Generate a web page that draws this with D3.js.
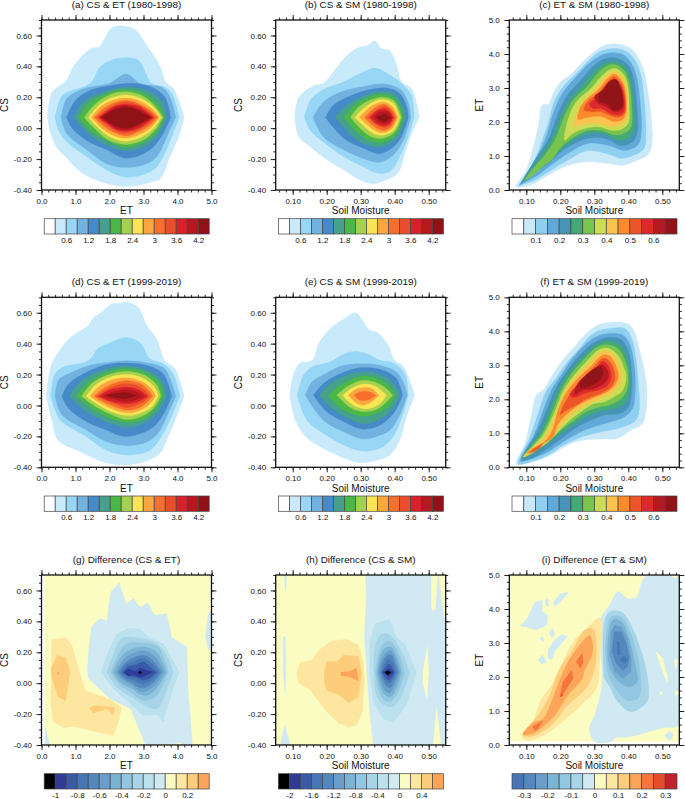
<!DOCTYPE html>
<html><head><meta charset="utf-8">
<style>html,body{margin:0;padding:0;background:#fff}svg{display:block}text{font-family:"Liberation Sans",Arial,sans-serif;fill:#111}</style>
<script src="https://cdn.jsdelivr.net/npm/d3@7"></script></head><body><div id="c"></div>
<script>
const colorsDensity=["#ffffff","#c9eafa","#97d6f5","#72b2e0","#468ac8","#45a08c","#4bb748","#a6d14f","#f9e553","#f9a73e","#f76f2a","#e94e2c","#d7212b","#b3191f","#8f1216"];
const colorsJoint=["#ffffff","#c9e9f9","#8fd0f0","#62a8d8","#4695b5","#44a877","#78c44f","#cddc55","#fac34f","#f98b2e","#ed5529","#dc2a2c","#b4191f","#901418"];
const colorsDiffG=["#000000","#303b98","#3a59a8","#4676b4","#5388bd","#6a9ecc","#7bb3d3","#93c6e0","#a7d4e6","#bbe0ee","#d0e9f3","#fbfcc2","#fde7a0","#fdcd7b","#fca55a"];
const colorsDiffI=["#4674b4","#5387bd","#6a9dc9","#7bb3d3","#93c6e0","#a7d4e6","#d0e9f3","#fbfcc2","#fde7a0","#fdcd7b","#fca55a","#f6743e","#e34d2c","#c2202a"];
const labelsDensity=[0.6,1.2,1.8,2.4,3,3.6,4.2];
const labelsJoint=[0.1,0.2,0.3,0.4,0.5,0.6];
const labelsG=[-1,-0.8,-0.6,-0.4,-0.2,0,0.2];
const labelsH=[-2,-1.6,-1.2,-0.8,-0.4,0,0.4];
const labelsI=[-0.3,-0.2,-0.1,0,0.1,0.2,0.3];
const titles=["(a) CS & ET (1980-1998)","(b) CS & SM (1980-1998)","(c) ET & SM (1980-1998)","(d) CS & ET (1999-2019)","(e) CS & SM (1999-2019)","(f) ET & SM (1999-2019)","(g) Difference (CS & ET)","(h) Difference (CS & SM)","(i) Difference (ET & SM)"];

const bandsA=[1,2,3,4,5,6,7,8,9,10,11,12,13,14];
const ringsA=[
[[.17,.07],[.3,.23],[.5,.27],[.7,.3],[1,.42],[1.5,.52],[1.7,.525],[1.9,.6],[2.1,.655],[2.7,.645],[3.1,.535],[3.5,.395],[3.65,.3],[3.9,.25],[4.2,.07],[4.07,-.035],[3.78,-.185],[3.5,-.325],[3.2,-.35],[2.7,-.375],[2.3,-.375],[1.72,-.345],[1.13,-.28],[.75,-.195],[.5,-.14],[.3,-.055]],
[[.4,.07],[.53,.18],[.65,.22],[1.43,.29],[1.72,.395],[2.06,.44],[2.45,.455],[2.85,.44],[3.24,.29],[3.63,.265],[3.85,.22],[4.05,.07],[3.87,-.035],[3.58,-.185],[3.29,-.27],[2.7,-.315],[2.4,-.315],[1.92,-.27],[1.33,-.185],[.75,-.09],[.5,-.015]],
[[.58,.07],[.74,.19],[1.23,.255],[2,.29],[2.5,.35],[2.9,.29],[3.58,.26],[3.8,.19],[3.95,.07],[3.73,-.035],[3.39,-.185],[3.09,-.23],[2.5,-.255],[1.92,-.23],[1.33,-.14],[.74,-.035]],
[[.74,.07],[1,.18],[1.43,.245],[2,.275],[2.7,.29],[3.29,.26],[3.63,.2],[3.8,.07],[3.58,-.035],[3.19,-.14],[2.5,-.195],[1.92,-.14],[1.33,-.08],[.9,0]],
[[.96,.07],[1.23,.17],[1.72,.225],[2.5,.265],[3.19,.235],[3.58,.16],[3.68,.07],[3.48,-.025],[3.09,-.11],[2.5,-.145],[1.92,-.11],[1.33,-.025]],
[[1.09,.07],[1.38,.16],[1.82,.215],[2.5,.25],[3.09,.215],[3.48,.14],[3.62,.07],[3.39,-.025],[3,-.09],[2.5,-.125],[1.92,-.08],[1.43,-.015]],
[[1.25,.07],[1.6,.16],[2,.215],[2.5,.235],[3,.205],[3.35,.14],[3.58,.07],[3.35,-.01],[3,-.075],[2.5,-.105],[2,-.08],[1.6,-.01]],
[[1.38,.07],[1.7,.15],[2.05,.195],[2.5,.215],[2.95,.19],[3.3,.135],[3.52,.07],[3.3,0],[2.95,-.055],[2.5,-.085],[2.05,-.06],[1.7,-.005]],
[[1.47,.07],[1.75,.14],[2.1,.18],[2.5,.195],[2.9,.175],[3.25,.125],[3.47,.07],[3.25,.01],[2.9,-.04],[2.5,-.065],[2.1,-.045],[1.75,.005]],
[[1.55,.07],[1.85,.13],[2.15,.165],[2.5,.18],[2.85,.16],[3.2,.115],[3.42,.07],[3.2,.02],[2.85,-.025],[2.5,-.05],[2.15,-.03],[1.85,.01]],
[[1.62,.07],[1.9,.12],[2.2,.155],[2.5,.17],[2.85,.15],[3.15,.11],[3.36,.07],[3.15,.028],[2.85,-.012],[2.5,-.035],[2.2,-.02],[1.9,.02]],
[[1.68,.07],[1.95,.115],[2.2,.145],[2.5,.155],[2.85,.14],[3.1,.105],[3.3,.07],[3.1,.035],[2.85,0],[2.5,-.02],[2.2,-.01],[1.95,.025]],
[[1.72,.07],[2,.11],[2.2,.135],[2.5,.145],[2.8,.13],[3.05,.1],[3.25,.07],[3.05,.04],[2.8,.01],[2.5,-.01],[2.2,-.002],[2,.03]],
[[1.78,.07],[2,.105],[2.25,.125],[2.5,.135],[2.8,.12],[3,.095],[3.2,.07],[3,.045],[2.8,.02],[2.5,0],[2.25,.008],[2,.035]]
];

const bandsB=[1,2,3,4,5,6,7,8,9,10,11,12,13,14];
const ringsB=[
[[.106,.07],[.118,.2],[.157,.27],[.19,.29],[.22,.365],[.25,.45],[.29,.52],[.32,.535],[.342,.565],[.36,.515],[.386,.5],[.405,.415],[.42,.3],[.45,.255],[.473,.07],[.45,-.035],[.43,-.165],[.41,-.29],[.376,-.335],[.337,-.36],[.298,-.335],[.25,-.27],[.2,-.205],[.152,-.12],[.118,-.055]],
[[.134,.07],[.152,.18],[.186,.245],[.25,.3],[.308,.365],[.344,.39],[.381,.35],[.42,.29],[.45,.21],[.457,.07],[.44,-.055],[.415,-.185],[.386,-.28],[.347,-.29],[.308,-.25],[.25,-.185],[.19,-.09],[.152,-.015]],
[[.16,.07],[.186,.16],[.23,.225],[.308,.27],[.376,.285],[.42,.245],[.44,.16],[.447,.07],[.43,-.055],[.4,-.165],[.357,-.22],[.318,-.205],[.25,-.14],[.19,-.055]],
[[.196,.07],[.22,.15],[.26,.2],[.318,.245],[.376,.26],[.415,.225],[.435,.14],[.44,.07],[.42,-.055],[.396,-.12],[.357,-.165],[.308,-.13],[.25,-.065]],
[[.225,.07],[.254,.14],[.3,.2],[.347,.235],[.396,.225],[.425,.14],[.432,.07],[.41,-.055],[.376,-.11],[.337,-.12],[.288,-.075]],
[[.25,.07],[.278,.14],[.318,.195],[.357,.22],[.396,.2],[.42,.115],[.425,.07],[.405,-.035],[.371,-.09],[.337,-.09],[.293,-.035]],
[[.27,.07],[.293,.135],[.327,.18],[.361,.2],[.396,.18],[.415,.105],[.42,.07],[.4,-.025],[.366,-.065],[.332,-.055],[.298,0]],
[[.283,.07],[.308,.125],[.337,.17],[.366,.185],[.396,.16],[.415,.07],[.396,-.015],[.366,-.045],[.337,-.035],[.308,.015]],
[[.296,.07],[.318,.12],[.342,.155],[.366,.17],[.393,.14],[.41,.07],[.393,0],[.366,-.03],[.342,-.015],[.318,.025]],
[[.311,.07],[.327,.105],[.347,.14],[.368,.155],[.39,.125],[.405,.07],[.39,.01],[.368,-.015],[.347,0],[.327,.035]],
[[.32,.07],[.337,.105],[.352,.125],[.371,.14],[.388,.115],[.4,.07],[.388,.02],[.371,.003],[.352,.015],[.335,.04]],
[[.327,.07],[.347,.11],[.371,.125],[.386,.105],[.396,.07],[.386,.03],[.371,.015],[.347,.03]],
[[.337,.07],[.352,.1],[.371,.11],[.383,.095],[.392,.07],[.383,.04],[.371,.03],[.352,.04]],
[[.347,.07],[.371,.09],[.386,.07],[.371,.04]]
];

const bandsC=[1,2,3,4,5,6,7,8,9,10,11,12,13];
const ringsC=[
[[.07,.1],[.1,.59],[.135,1.86],[.147,2.5],[.164,2.53],[.184,2.94],[.203,3.2],[.228,3.38],[.262,3.73],[.301,4.07],[.33,4.26],[.379,4.28],[.413,4.12],[.442,3.63],[.457,2.94],[.467,2.16],[.47,1.37],[.457,1.03],[.423,.86],[.384,.72],[.34,.78],[.281,.83],[.223,.72],[.174,.49],[.125,.2],[.096,.1]],
[[.077,.1],[.116,.69],[.147,1.47],[.164,1.96],[.184,2.65],[.213,3.09],[.252,3.48],[.301,3.97],[.33,4.12],[.379,4.14],[.408,3.97],[.433,3.53],[.447,2.65],[.452,1.67],[.447,1.23],[.418,1.03],[.379,.93],[.34,1.06],[.281,1.16],[.223,.88],[.174,.59],[.125,.29],[.086,.15]],
[[.081,.15],[.12,.78],[.155,1.47],[.179,2.25],[.203,2.79],[.242,3.28],[.291,3.77],[.33,4],[.374,4.02],[.403,3.82],[.423,3.38],[.436,2.45],[.438,1.67],[.428,1.32],[.389,1.16],[.345,1.3],[.281,1.37],[.223,1.08],[.174,.74],[.135,.44],[.091,.2]],
[[.086,.2],[.125,.88],[.164,1.47],[.194,2.25],[.218,2.75],[.252,3.14],[.301,3.68],[.335,3.87],[.369,3.87],[.399,3.68],[.416,3.24],[.426,2.35],[.426,1.67],[.413,1.42],[.379,1.3],[.345,1.47],[.301,1.55],[.252,1.42],[.203,1.13],[.164,.78],[.125,.54],[.091,.25]],
[[.091,.25],[.135,.88],[.174,1.47],[.203,2.2],[.228,2.65],[.267,3.09],[.311,3.58],[.35,3.77],[.384,3.68],[.403,3.38],[.416,2.45],[.416,1.76],[.399,1.52],[.369,1.47],[.33,1.65],[.296,1.69],[.252,1.55],[.213,1.27],[.169,.88],[.135,.64],[.106,.34]],
[[.096,.29],[.125,.69],[.155,1.03],[.184,1.47],[.213,2.2],[.238,2.65],[.277,3.02],[.32,3.53],[.355,3.7],[.384,3.55],[.4,3.24],[.41,2.45],[.408,1.86],[.389,1.67],[.36,1.62],[.32,1.75],[.281,1.75],[.242,1.57],[.203,1.27],[.174,.88],[.155,.74],[.12,.44]],
[[.213,1.47],[.216,1.81],[.233,2.35],[.252,2.65],[.291,2.99],[.325,3.38],[.358,3.58],[.384,3.43],[.397,3.14],[.403,2.45],[.4,1.96],[.379,1.78],[.35,1.76],[.311,1.86],[.272,1.81],[.238,1.67]],
[[.24,1.88],[.247,2.2],[.267,2.6],[.301,2.94],[.33,3.28],[.358,3.48],[.382,3.31],[.394,2.99],[.399,2.35],[.394,2.06],[.374,1.91],[.35,1.86],[.311,1.96],[.272,1.94]],
[[.252,2.08],[.26,2.45],[.281,2.7],[.311,2.94],[.335,3.24],[.358,3.41],[.379,3.24],[.391,2.94],[.394,2.35],[.387,2.11],[.36,2.01],[.32,2.16],[.281,2.14]],
[[.27,2.35],[.281,2.6],[.311,2.84],[.335,3.14],[.358,3.33],[.379,3.14],[.389,2.84],[.391,2.3],[.379,2.16],[.355,2.16],[.32,2.3],[.291,2.3]],
[[.286,2.53],[.311,2.75],[.335,3.02],[.358,3.25],[.377,3.09],[.387,2.79],[.387,2.3],[.369,2.2],[.35,2.24],[.32,2.4],[.296,2.4]],
[[.301,2.75],[.325,2.94],[.34,3.14],[.358,3.24],[.374,3.06],[.384,2.75],[.384,2.4],[.36,2.3],[.335,2.45],[.311,2.55]],
[[.313,2.79],[.33,2.99],[.345,3.19],[.364,3.25],[.376,3.04],[.384,2.65],[.379,2.45],[.358,2.35],[.335,2.55],[.316,2.6]]
];

const bandsD=[1,2,3,4,5,6,7,8,9,10,11,12,13,14];
const ringsD=[
[[.14,.06],[.3,.27],[.5,.345],[.8,.43],[1.38,.52],[1.53,.57],[1.72,.595],[2.08,.66],[2.26,.66],[2.5,.67],[2.85,.635],[3.09,.52],[3.39,.43],[3.63,.29],[3.92,.24],[4.2,.06],[3.97,-.075],[3.68,-.225],[3.48,-.31],[3,-.365],[2.4,-.385],[1.82,-.365],[1.13,-.3],[.49,-.225],[.3,-.095]],
[[.27,.06],[.4,.205],[.65,.25],[1.38,.29],[1.67,.37],[2,.405],[2.5,.44],[2.9,.405],[3.2,.3],[3.58,.27],[3.87,.205],[4.07,.06],[3.78,-.095],[3.58,-.18],[3.19,-.29],[2.5,-.32],[1.92,-.29],[1.23,-.19],[.55,-.095],[.4,-.03]],
[[.4,.06],[.5,.165],[.7,.195],[1.43,.26],[2,.28],[2.5,.29],[3,.28],[3.58,.245],[3.78,.175],[3.95,.06],[3.73,-.05],[3.39,-.19],[3,-.245],[2.5,-.26],[1.92,-.235],[1.33,-.16],[.6,-.06]],
[[.6,.06],[.8,.14],[1.23,.205],[1.92,.265],[2.5,.275],[3.09,.26],[3.58,.205],[3.83,.06],[3.63,-.04],[3.29,-.14],[2.8,-.19],[2.4,-.2],[1.92,-.16],[1.33,-.105],[.8,-.02]],
[[.82,.06],[1.13,.15],[1.62,.215],[2.4,.255],[3.09,.23],[3.53,.165],[3.68,.06],[3.43,-.04],[3.09,-.105],[2.5,-.14],[1.92,-.105],[1.33,-.04]],
[[1.02,.06],[1.33,.14],[1.82,.205],[2.45,.24],[3.09,.21],[3.48,.14],[3.58,.06],[3.34,-.03],[3,-.09],[2.5,-.11],[1.92,-.075],[1.43,-.01]],
[[1.18,.06],[1.47,.14],[1.92,.195],[2.5,.22],[3.04,.195],[3.41,.125],[3.51,.06],[3.29,-.02],[2.95,-.07],[2.5,-.09],[1.97,-.05],[1.53,.002]],
[[1.31,.06],[1.58,.13],[1.97,.18],[2.5,.2],[3,.175],[3.34,.115],[3.43,.06],[3.24,-.01],[2.9,-.05],[2.5,-.065],[2,-.035],[1.58,.017]],
[[1.43,.06],[1.67,.12],[2.06,.165],[2.5,.18],[2.95,.155],[3.24,.105],[3.36,.06],[3.14,.002],[2.85,-.035],[2.5,-.047],[2.06,-.02],[1.67,.024]],
[[1.55,.06],[1.82,.11],[2.16,.146],[2.5,.16],[2.9,.142],[3.14,.1],[3.27,.06],[3.07,.013],[2.8,-.02],[2.5,-.03],[2.1,-.004],[1.76,.03]],
[[1.62,.06],[1.92,.103],[2.2,.13],[2.5,.14],[2.85,.125],[3.09,.088],[3.19,.06],[3,.024],[2.75,0],[2.5,-.013],[2.16,.009],[1.87,.034]],
[[1.7,.06],[2,.1],[2.5,.12],[2.85,.103],[3.12,.06],[2.85,.026],[2.5,.009],[2,.03]],
[[1.8,.06],[2.16,.09],[2.5,.103],[2.8,.088],[3.02,.06],[2.8,.039],[2.5,.024],[2.16,.039]],
[[1.92,.065],[2.45,.082],[2.78,.065],[2.45,.045]]
];

const bandsE=[1,2,3,4,5,6,7,8,9,10];
const ringsE=[
[[.091,.066],[.103,.206],[.122,.275],[.157,.292],[.176,.4],[.21,.497],[.25,.56],[.286,.6],[.303,.56],[.325,.49],[.347,.475],[.381,.39],[.4,.292],[.425,.254],[.459,.066],[.435,-.073],[.415,-.224],[.386,-.32],[.337,-.36],[.293,-.37],[.24,-.33],[.181,-.267],[.137,-.2],[.108,-.095]],
[[.113,.066],[.132,.196],[.157,.25],[.21,.282],[.244,.325],[.279,.35],[.318,.335],[.357,.292],[.396,.275],[.43,.206],[.44,.066],[.425,-.05],[.396,-.2],[.357,-.277],[.303,-.295],[.25,-.256],[.19,-.18],[.142,-.095]],
[[.137,.066],[.157,.153],[.196,.206],[.25,.26],[.298,.27],[.357,.26],[.405,.217],[.425,.153],[.437,.066],[.415,-.062],[.386,-.16],[.347,-.2],[.303,-.215],[.25,-.17],[.19,-.095]],
[[.161,.066],[.19,.142],[.24,.206],[.303,.245],[.366,.228],[.405,.174],[.423,.066],[.4,-.04],[.357,-.127],[.306,-.153],[.25,-.105],[.2,-.04]],
[[.179,.066],[.21,.142],[.259,.196],[.306,.217],[.357,.2],[.396,.142],[.415,.066],[.391,-.03],[.352,-.095],[.306,-.116],[.254,-.073],[.21,-.009]],
[[.205,.066],[.24,.131],[.279,.174],[.306,.19],[.352,.174],[.386,.12],[.402,.066],[.381,-.009],[.347,-.052],[.306,-.069],[.259,-.04],[.225,.013]],
[[.23,.066],[.259,.12],[.293,.157],[.313,.163],[.352,.142],[.381,.099],[.394,.066],[.371,.013],[.342,-.03],[.306,-.04],[.269,-.013],[.249,.024]],
[[.247,.066],[.273,.11],[.303,.138],[.337,.131],[.366,.088],[.376,.066],[.357,.013],[.327,-.02],[.303,-.02],[.273,.009]],
[[.264,.066],[.283,.1],[.306,.116],[.332,.11],[.354,.066],[.332,.024],[.306,.002],[.283,.024]],
[[.28,.066],[.298,.088],[.327,.088],[.344,.066],[.327,.04],[.298,.034]]
];

const bandsF=[1,2,3,4,5,6,7,8,9,10,10,11,12,13];
const ringsF=[
[[.07,.1],[.096,.7],[.114,1.49],[.13,2.13],[.15,2.27],[.174,2.67],[.208,3.16],[.242,3.55],[.272,3.89],[.311,4.19],[.345,4.26],[.389,4.25],[.413,4.09],[.433,3.45],[.449,2.76],[.455,2.13],[.442,1.29],[.408,1.1],[.369,.85],[.32,.83],[.272,.8],[.223,.66],[.174,.36],[.125,.17],[.091,.1]],
[[.077,.1],[.111,.9],[.135,1.59],[.16,2.27],[.184,2.57],[.218,3.06],[.257,3.5],[.291,3.89],[.32,4.04],[.355,4.09],[.389,4.09],[.408,3.84],[.423,3.16],[.43,2.37],[.433,1.78],[.423,1.39],[.389,1.2],[.35,1.1],[.301,1],[.252,.85],[.203,.61],[.164,.36],[.116,.17]],
[[.083,.17],[.125,1],[.15,1.69],[.174,2.27],[.203,2.72],[.233,3.16],[.272,3.6],[.306,3.84],[.345,3.94],[.384,3.89],[.403,3.65],[.418,2.96],[.42,2.18],[.413,1.74],[.389,1.49],[.35,1.34],[.301,1.2],[.252,1],[.203,.71],[.155,.41],[.106,.22]],
[[.086,.22],[.13,1],[.16,1.69],[.189,2.37],[.218,2.81],[.257,3.3],[.296,3.65],[.34,3.82],[.379,3.75],[.399,3.45],[.41,2.76],[.408,2.08],[.399,1.74],[.369,1.57],[.33,1.54],[.291,1.39],[.252,1.2],[.203,.85],[.164,.56],[.116,.26]],
[[.089,.26],[.14,1],[.169,1.69],[.199,2.37],[.228,2.81],[.267,3.25],[.306,3.6],[.34,3.72],[.374,3.6],[.394,3.3],[.405,2.67],[.403,2.18],[.389,1.88],[.36,1.74],[.325,1.67],[.286,1.54],[.252,1.34],[.203,1],[.164,.71],[.125,.46]],
[[.091,.31],[.147,1],[.179,1.69],[.203,2.27],[.233,2.76],[.272,3.2],[.311,3.55],[.345,3.6],[.374,3.45],[.389,3.16],[.4,2.72],[.394,2.23],[.374,1.98],[.345,1.83],[.311,1.76],[.277,1.64],[.242,1.39],[.203,1.1],[.169,.8],[.125,.46]],
[[.091,.31],[.15,.95],[.184,1.64],[.208,2.23],[.238,2.67],[.277,3.11],[.316,3.47],[.342,3.5],[.369,3.3],[.386,2.96],[.394,2.67],[.384,2.27],[.36,2.08],[.33,1.93],[.296,1.86],[.262,1.64],[.223,1.34],[.194,1.05],[.16,.71],[.125,.51]],
[[.091,.31],[.111,.51],[.155,.9],[.184,1.44],[.199,1.88],[.218,2.32],[.247,2.67],[.286,3.06],[.32,3.4],[.345,3.4],[.366,3.16],[.379,2.72],[.374,2.42],[.35,2.18],[.311,2],[.277,1.83],[.238,1.59],[.203,1.25],[.179,.95],[.15,.71],[.116,.41]],
[[.101,.41],[.12,.56],[.15,.71],[.169,.95],[.179,1.15],[.194,1.69],[.213,2.13],[.252,2.62],[.291,2.98],[.325,3.3],[.345,3.27],[.36,3.06],[.371,2.72],[.364,2.47],[.34,2.23],[.301,2.06],[.262,1.88],[.228,1.64],[.194,1.29],[.179,.9],[.145,.66],[.116,.46]],
[[.199,1.54],[.218,1.98],[.257,2.52],[.296,2.92],[.325,3.2],[.34,3.16],[.355,2.94],[.361,2.62],[.35,2.37],[.32,2.18],[.281,2.03],[.242,1.8],[.213,1.64]],
[[.108,.42],[.125,.56],[.15,.72],[.142,.6],[.125,.47]],
[[.228,2.13],[.267,2.57],[.301,2.86],[.325,3.11],[.34,3.01],[.35,2.72],[.34,2.42],[.311,2.27],[.272,2.18],[.242,2.06]],
[[.242,2.13],[.252,2.47],[.277,2.72],[.306,2.94],[.325,3.01],[.342,2.76],[.335,2.52],[.301,2.32],[.267,2.27]],
[[.257,2.42],[.277,2.72],[.32,2.96],[.325,2.72],[.311,2.52],[.286,2.39],[.262,2.32]]
];

const bandsG=[10,10,10,9,8,7,6,5,4,3,2,1,0,12,13,13,14];
const ringsG=[
[[1.35,.07],[1.38,.2],[1.47,.365],[1.72,.42],[1.92,.4],[2.04,.59],[2.29,.65],[2.49,.51],[2.7,.55],[2.9,.49],[3.12,.52],[3.34,.44],[3.68,.45],[3.83,.295],[4.27,.235],[4.31,-.035],[4.44,-.4],[4.12,-.4],[4.1,-.38],[3.97,-.39],[3.06,-.4],[2.7,-.205],[2.62,-.165],[2.02,-.1],[1.38,.03]],
[[4.82,.3],[4.9,.45],[5,.47],[5,.22],[4.9,.22]],
[[.1,-.28],[.25,-.4],[.1,-.4]],
[[1.75,.07],[1.92,.18],[2.21,.32],[2.55,.355],[2.9,.35],[3.19,.29],[3.58,.255],[3.92,.125],[4.05,.07],[3.87,-.035],[3.58,-.25],[3.39,-.205],[2.99,-.21],[2.7,-.15],[2.11,-.035]],
[[1.92,.07],[2.11,.18],[2.36,.29],[2.9,.29],[3.39,.255],[3.68,.18],[3.87,.07],[3.73,-.013],[3.39,-.165],[2.99,-.14],[2.65,-.09],[2.21,-.025]],
[[2.04,.07],[2.21,.16],[2.5,.255],[3,.26],[3.43,.235],[3.63,.14],[3.73,.07],[3.58,-.002],[3.34,-.09],[3,-.11],[2.6,-.055],[2.26,0]],
[[2.11,.07],[2.31,.16],[2.55,.21],[3,.235],[3.39,.2],[3.58,.125],[3.68,.07],[3.48,-.002],[3.24,-.065],[3,-.08],[2.65,-.035],[2.31,.01]],
[[2.19,.07],[2.4,.15],[2.65,.19],[3,.21],[3.29,.18],[3.53,.105],[3.6,.07],[3.39,-.002],[3.14,-.045],[2.95,-.055],[2.65,-.013],[2.36,.025]],
[[2.26,.07],[2.46,.13],[2.7,.165],[3,.18],[3.24,.155],[3.43,.105],[3.53,.07],[3.31,.009],[3.09,-.024],[2.9,-.03],[2.65,.004],[2.41,.034]],
[[2.33,.07],[2.5,.118],[2.75,.142],[3,.16],[3.19,.138],[3.46,.07],[3.24,.02],[3,-.006],[2.7,.02],[2.46,.04]],
[[2.39,.07],[2.55,.107],[2.8,.12],[3,.138],[3.19,.105],[3.39,.07],[3.19,.034],[3,.02],[2.75,.04],[2.55,.047]],
[[2.44,.07],[2.55,.09],[2.75,.077],[2.9,.095],[3.09,.083],[3.29,.07],[3.09,.052],[2.9,.04],[2.7,.055],[2.55,.047]],
[[2.85,.07],[2.9,.078],[2.95,.07],[2.9,.06]],
[[.3,.28],[.71,.295],[.89,.245],[1.09,.095],[1.28,-.045],[2.02,-.105],[2.36,-.157],[2.26,-.25],[2.11,-.34],[1.62,-.315],[.94,-.28],[.65,-.29],[.35,-.25],[.27,-.14]],
[[.47,.18],[.72,.16],[.84,.07],[.71,-.115],[.5,-.09],[.3,.03],[.28,.095]],
[[1.4,-.16],[1.58,-.145],[2.16,-.157],[2.11,-.205],[1.92,-.167],[1.53,-.195]],
[[.48,.07],[.51,.07],[.51,.055],[.48,.055]]
];

const bandsH=[10,11,11,11,11,10,10,10,9,8,7,6,5,4,3,2,1,0,12,13,14];
const ringsH=[
[[.315,.7],[.316,.5],[.311,.31],[.318,.07],[.327,-.205],[.337,-.4],[.55,-.4],[.55,.7]],
[[.508,.7],[.508,.5],[.513,.465],[.52,.49],[.527,.7]],
[[.53,.7],[.545,.43],[.55,.42],[.55,.7]],
[[.513,-.4],[.523,-.157],[.537,-.4]],
[[.483,.07],[.496,.24],[.5,.07],[.495,-.1],[.483,0]],
[[.075,.7],[.082,.7],[.08,.6],[.078,.6]],
[[.072,.3],[.078,.3],[.08,.07],[.078,-.08],[.073,.05]],
[[.064,-.4],[.076,-.27],[.093,-.4]],
[[.327,.27],[.342,.385],[.386,.415],[.403,.3],[.43,.255],[.464,.07],[.435,-.14],[.396,-.255],[.367,-.23],[.337,-.12],[.327,.07]],
[[.339,.07],[.342,.225],[.357,.31],[.376,.32],[.396,.29],[.425,.18],[.444,.07],[.42,-.08],[.396,-.15],[.367,-.14],[.347,-.08]],
[[.344,.07],[.352,.18],[.366,.255],[.386,.27],[.41,.2],[.429,.07],[.41,-.055],[.386,-.12],[.366,-.1],[.352,-.035]],
[[.348,.07],[.357,.17],[.371,.225],[.388,.235],[.405,.18],[.42,.07],[.405,-.035],[.386,-.09],[.369,-.07],[.357,-.015]],
[[.352,.07],[.361,.15],[.376,.2],[.388,.21],[.402,.16],[.415,.07],[.4,-.015],[.386,-.06],[.371,-.045],[.36,.01]],
[[.357,.07],[.366,.14],[.379,.18],[.391,.18],[.402,.125],[.41,.07],[.398,.01],[.386,-.03],[.374,-.015],[.364,.03]],
[[.361,.07],[.371,.125],[.381,.155],[.393,.135],[.403,.07],[.393,.02],[.384,0],[.371,.02]],
[[.364,.07],[.374,.105],[.383,.122],[.393,.1],[.4,.07],[.391,.035],[.382,.02],[.373,.035]],
[[.367,.07],[.382,.095],[.396,.07],[.382,.04]],
[[.371,.07],[.38,.08],[.389,.07],[.38,.055]],
[[.111,.07],[.122,.135],[.157,.15],[.176,.21],[.21,.27],[.259,.285],[.293,.245],[.308,.135],[.311,.01],[.305,-.185],[.288,-.27],[.264,-.285],[.235,-.26],[.2,-.185],[.166,-.09],[.152,-.045],[.118,0]],
[[.193,.07],[.2,.142],[.23,.138],[.249,.18],[.293,.175],[.303,.07],[.293,-.09],[.264,-.127],[.24,-.08],[.2,-.045],[.193,.01]],
[[.241,.07],[.268,.077],[.288,.1],[.293,.015],[.268,.04],[.242,.048]]
];

const bandsI=[6,7,7,7,7,7,6,6,6,6,6,6,6,6,5,4,3,2,1,0,0,8,9,10,11,11,11,12];
const ringsI=[
[[.318,3.68],[.345,4.1],[.369,4.51],[.398,4.31],[.426,4.36],[.44,4.8],[.457,5],[.52,5],[.535,4.9],[.55,4.95],[.55,.6],[.5,.5],[.408,.25],[.36,.2],[.35,.1],[.301,.1],[.286,.49],[.301,.88],[.322,1.76]],
[[.481,2.75],[.501,2.55],[.516,1.96],[.516,1.81],[.498,2.25]],
[[.535,2.45],[.54,2.2],[.545,2.45],[.54,2.55]],
[[.492,1.52],[.497,1.58],[.5,1.5],[.495,1.45]],
[[.535,1.55],[.545,1.6],[.55,1.5],[.54,1.45]],
[[.4,.1],[.45,.17],[.5,.2],[.5,.49],[.53,.47],[.55,.45],[.55,.1]],
[[.508,.28],[.52,.42],[.533,.28],[.52,.12]],
[[.08,3.5],[.101,3.68],[.125,4.2],[.147,4.26],[.147,3.92],[.164,3.82],[.16,3.53],[.13,3.38],[.097,3.48]],
[[.155,4.26],[.164,4.3],[.166,4.07],[.158,4.1]],
[[.179,4.2],[.2,4.45],[.225,4.5],[.205,4.25],[.184,4.07]],
[[.167,3.28],[.176,3.45],[.184,3.28],[.176,3.16]],
[[.14,3.14],[.148,3.2],[.153,3.09],[.147,3.04]],
[[.164,2.8],[.184,3.09],[.203,3.24],[.222,3.2],[.199,2.94],[.184,2.75],[.175,2.5],[.164,2.55]],
[[.135,2.5],[.147,2.65],[.16,2.45],[.147,2.37]],
[[.327,2.25],[.33,3.63],[.345,3.92],[.379,3.92],[.408,3.53],[.447,2.45],[.46,1.47],[.452,1.23],[.408,.98],[.369,1.27],[.345,1.72],[.33,1.96]],
[[.335,2.45],[.337,3.43],[.35,3.77],[.379,3.77],[.403,3.38],[.428,2.55],[.437,1.67],[.428,1.37],[.394,1.32],[.369,1.57],[.345,1.96]],
[[.34,2.55],[.343,3.33],[.355,3.68],[.379,3.63],[.399,3.24],[.418,2.45],[.426,1.86],[.403,1.72],[.379,1.81],[.35,2.16]],
[[.345,2.65],[.35,3.33],[.36,3.53],[.379,3.48],[.397,3.14],[.408,2.55],[.408,2.16],[.384,1.96],[.36,2.16]],
[[.352,2.75],[.358,3.33],[.379,3.33],[.394,2.99],[.403,2.55],[.398,2.3],[.384,2.2],[.364,2.4]],
[[.366,3.04],[.374,3.02],[.376,2.65],[.369,2.65]],
[[.376,2.5],[.387,2.62],[.398,2.5],[.388,2.4]],
[[.086,.29],[.116,.64],[.145,1.37],[.174,1.76],[.203,2.35],[.238,3.04],[.277,3.43],[.316,3.73],[.316,2.45],[.306,1.67],[.262,1.18],[.213,.74],[.169,.39],[.135,.2],[.096,.15]],
[[.089,.29],[.12,.69],[.135,.88],[.169,1.47],[.194,2.16],[.233,2.75],[.272,3.38],[.296,3.43],[.306,2.75],[.296,2.06],[.267,1.57],[.223,1.18],[.184,.69],[.155,.44],[.116,.25]],
[[.091,.31],[.118,.64],[.15,.78],[.174,1.27],[.194,1.81],[.223,2.45],[.257,2.94],[.286,3.22],[.296,2.94],[.293,2.65],[.272,2.2],[.262,1.91],[.223,1.47],[.184,.88],[.155,.59],[.12,.34]],
[[.118,.54],[.15,.72],[.135,.49],[.125,.42]],
[[.199,1.42],[.208,1.86],[.233,2.2],[.238,1.96],[.213,1.57]],
[[.247,2.45],[.264,2.7],[.267,2.45],[.259,2.25]],
[[.2,1.42],[.205,1.55],[.207,1.45]]
];

const xET=[0,5], xSM=[.05,.55], yCS=[-.4,.7], yET=[0,5];
const ticksET=[0,1,2,3,4,5], ticksSM=[.1,.2,.3,.4,.5], ticksCS=[-.4,-.2,0,.2,.4,.6];
const minorET=d3.range(0,5.01,.2).map(v=>+v.toFixed(1)), minorSM=d3.range(.06,.55,.02).map(v=>+v.toFixed(2)), minorCS=d3.range(-.4,.701,.05).map(v=>+v.toFixed(2));

const panelX=[41.5,275.7,509.3], panelY=[20,297.3,575], size=170;
const xTitle=["ET","Soil Moisture","Soil Moisture"];
const yTitleBase=[33.5,34,26.6];

const panels=[
 {rings:ringsA,bands:bandsA,colors:colorsDensity,labels:labelsDensity,dom:[0,4.5],kind:0,smooth:1},
 {rings:ringsB,bands:bandsB,colors:colorsDensity,labels:labelsDensity,dom:[0,4.5],kind:1,smooth:1},
 {rings:ringsC,bands:bandsC,colors:colorsJoint,labels:labelsJoint,dom:[0,.7],kind:2,smooth:2},
 {rings:ringsD,bands:bandsD,colors:colorsDensity,labels:labelsDensity,dom:[0,4.5],kind:0,smooth:1},
 {rings:ringsE,bands:bandsE,colors:colorsDensity,labels:labelsDensity,dom:[0,4.5],kind:1,smooth:1},
 {rings:ringsF,bands:bandsF,colors:colorsJoint,labels:labelsJoint,dom:[0,.7],kind:2,smooth:2},
 {rings:ringsG,bands:bandsG,colors:colorsDiffG,labels:labelsG,dom:[-1.1,.4],kind:0,bg:[.1,5,-.4,.7],smooth:3},
 {rings:ringsH,bands:bandsH,colors:colorsDiffG,labels:labelsH,dom:[-2.2,.8],kind:1,bg:[.05,.55,-.4,.7],smooth:3},
 {rings:ringsI,bands:bandsI,colors:colorsDiffI,labels:labelsI,dom:[-.35,.35],kind:2,bg:[.05,.55,.1,5],smooth:4}
];

const svg=d3.select("#c").append("svg").attr("width",685).attr("height",799);
const defs=svg.append("defs");
const noLabel=()=>"";
const tickFont=8, cbFont=8;

panels.forEach((p,i)=>{
 const col=i%3,row=Math.floor(i/3),k=p.kind;
 const g=svg.append("g").attr("transform",`translate(${panelX[col]},${panelY[row]})`);
 const x=d3.scaleLinear().domain(k===0?xET:xSM).range([0,size]);
 const y=d3.scaleLinear().domain(k===2?yET:yCS).range([size,0]);
 defs.append("clipPath").attr("id","cp"+i).append("rect").attr("width",size).attr("height",size);
 const body=g.append("g").attr("clip-path",`url(#cp${i})`);
 if(p.bg){
  body.append("rect").attr("x",x(p.bg[0])).attr("width",x(p.bg[1])-x(p.bg[0]))
   .attr("y",y(p.bg[3])).attr("height",y(p.bg[2])-y(p.bg[3])).attr("fill","#fbfcc2");
 }
 const closedLinear=d3.line().x(d=>x(d[0])).y(d=>y(d[1])).curve(d3.curveLinearClosed);
 const closedSmooth=d3.line().x(d=>x(d[0])).y(d=>y(d[1])).curve(d3.curveCatmullRomClosed.alpha(.5));
 const openSmooth=d3.line().x(d=>x(d[0])).y(d=>y(d[1])).curve(d3.curveCatmullRom.alpha(.5));
 // a lens: two smooth arcs that meet at sharp left and right tips
 const lens=r=>{const m=d3.maxIndex(r,d=>d[0]);return openSmooth(r.slice(0,m+1))+openSmooth(r.slice(m).concat([r[0]]));};
 const pathOf=(r,j)=>{
  const b=p.bands[j];
  if(p.smooth===1) return lens(r);
  if(p.smooth===2) return r.length>6?closedSmooth(r):closedLinear(r);
  if(p.smooth===3) return (b<=8&&r.length>5)?lens(r):closedLinear(r);
  return (r.length>=10)?closedSmooth(r):closedLinear(r);
 };
 body.selectAll("path").data(p.rings).join("path").attr("d",pathOf)
  .attr("fill",(d,j)=>p.colors[p.bands[j]]).attr("stroke",(d,j)=>p.colors[p.bands[j]]).attr("stroke-width",.3);

 const xMajor=k===0?ticksET:ticksSM, xMinor=k===0?minorET:minorSM;
 const yMajor=k===2?ticksET:ticksCS, yMinor=k===2?minorET:minorCS;
 const fx=k===0?(v=>v.toFixed(1)):(v=>v.toFixed(2));
 const fy=k===2?(v=>v.toFixed(1)):(v=>v.toFixed(2));
 const ax=(gen,tr)=>{const s=g.append("g").attr("transform",tr).call(gen);
  s.select(".domain").remove();s.selectAll("line").attr("stroke","#111").attr("stroke-width",.9);return s;};
 ax(d3.axisBottom(x).tickValues(xMinor).tickSize(2.5).tickFormat(noLabel),`translate(0,${size})`);
 ax(d3.axisTop(x).tickValues(xMinor).tickSize(2.5).tickFormat(noLabel),"translate(0,0)");
 ax(d3.axisLeft(y).tickValues(yMinor).tickSize(2.5).tickFormat(noLabel),"translate(0,0)");
 ax(d3.axisRight(y).tickValues(yMinor).tickSize(2.5).tickFormat(noLabel),`translate(${size},0)`);
 const bx=ax(d3.axisBottom(x).tickValues(xMajor).tickSize(5).tickPadding(3.5).tickFormat(fx),`translate(0,${size})`);
 ax(d3.axisTop(x).tickValues(xMajor).tickSize(5).tickFormat(noLabel),"translate(0,0)");
 const ly=ax(d3.axisLeft(y).tickValues(yMajor).tickSize(5).tickPadding(4.5).tickFormat(fy),"translate(0,0)");
 ax(d3.axisRight(y).tickValues(yMajor).tickSize(5).tickFormat(noLabel),`translate(${size},0)`);
 [bx,ly].forEach(s=>s.selectAll("text").attr("font-size",tickFont).attr("font-family",null).style("font-family",'"Liberation Sans"').attr("fill","#111"));
 g.append("rect").attr("width",size).attr("height",size).attr("fill","none").attr("stroke","#111").attr("stroke-width",1.3);

 g.append("text").attr("x",size/2).attr("y",-12.5).attr("text-anchor","middle").attr("font-size",9.9).text(titles[i]);
 g.append("text").attr("x",size/2).attr("y",size+24.3).attr("text-anchor","middle").attr("font-size",10).text(xTitle[col]);
 g.append("text").attr("transform",`translate(${-yTitleBase[col]},${size/2}) rotate(-90)`).attr("text-anchor","middle").attr("font-size",10).text(k===2?"ET":"CS");

 // colour bar
 const cb=g.append("g").attr("transform",`translate(2.7,${size+28.7})`);
 const cbW=165,cbH=15.3;
 const n=p.colors.length, step=(p.dom[1]-p.dom[0])/n;
 const cx=d3.scaleLinear().domain(p.dom).range([0,cbW]);
 cb.selectAll("rect").data(p.colors).join("rect")
  .attr("x",(d,j)=>cx(p.dom[0]+j*step)).attr("width",(d,j)=>cx(p.dom[0]+(j+1)*step)-cx(p.dom[0]+j*step))
  .attr("y",0).attr("height",cbH).attr("fill",d=>d).attr("stroke","#444").attr("stroke-width",.7);
 const a=cb.append("g").attr("transform",`translate(0,${cbH})`)
  .call(d3.axisBottom(cx).tickValues(p.labels).tickSize(0).tickPadding(3.2).tickFormat(v=>String(v)));
 a.select(".domain").remove();
 a.selectAll("text").attr("font-size",cbFont).attr("font-family",null).style("font-family",'"Liberation Sans"').attr("fill","#111");
});
</script></body></html>
